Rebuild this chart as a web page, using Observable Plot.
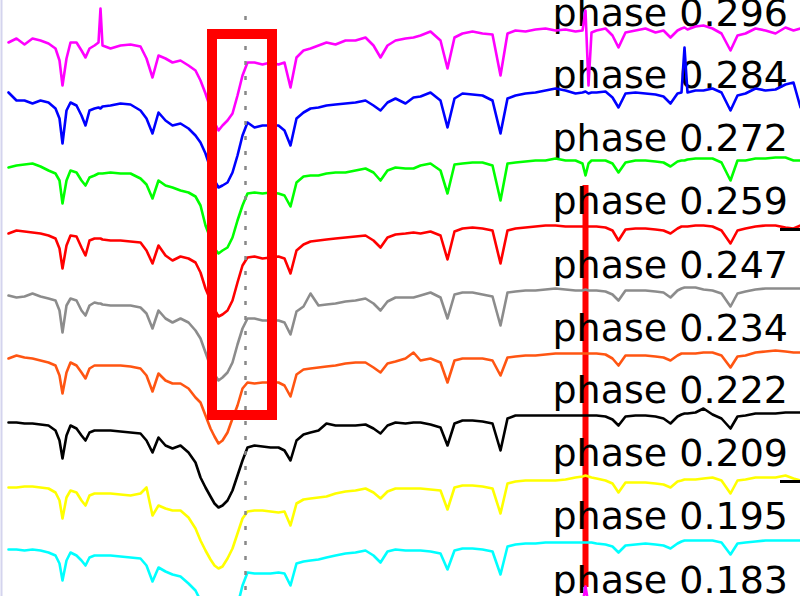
<!DOCTYPE html>
<html><head><meta charset="utf-8">
<script src="https://cdn.jsdelivr.net/npm/d3@7"></script>
<script src="https://cdn.jsdelivr.net/npm/@observablehq/plot@0.6"></script>
<style>html,body{margin:0;padding:0;background:#fff;overflow:hidden}</style>
</head><body><div id="chart"></div>
<script>
// shared wavelength bins (arbitrary pixel-like units)
const wavelength = [8,16,24,32,40,48,55,59,62,66,70,76,81,85,89,94,98,100,102,110,120,130,140,146,152,158,165,172,180,188,195,200,205,210,214,218,222,227,232,237,242,247,254,262,270,278,284,290,296,303,310,318,326,335,345,355,365,373,380,387,395,405,413,420,430,440,447,454,462,472,482,492,500,507,515,525,535,545,555,565,575,582,585,588,591,596,605,612,618,625,635,645,655,663,670,677,681,684,687,695,703,712,721,730,737,745,755,765,775,785,793,800];

const phases = ["0.296","0.284","0.272","0.259","0.247","0.234","0.222","0.209","0.195","0.183"];
const phaseColors = ["#ff00ff","#0000ff","#00ff00","#ff0000","#8c8c8c","#ff5512","#000000","#ffff00","#00ffff","#ff00ff"];
// label levels (stacked-flux units)
const labelLevels = [25,87,150,213,277,340,402,465,528,592];

// stacked flux (downward units) per phase
const flux0296 = [42,38,44,38,40,43,48,60,85,58,
 42,42,50,57,48,45,42,8,45,48,
 45,44,46,58,77,55,58,62,60,65,
 70,80,93,108,122,130,125,120,113,95,
 75,62,62,64,62,64,62,87,57,50,
 48,45,42,44,40,40,37,45,57,45,
 40,38,37,35,31,40,68,37,33,31,
 33,34,75,33,30,31,29,28,30,29,
 31,30,10,85,32,30,28,35,47,32,
 30,28,32,30,37,30,28,27,29,26,
 25,28,33,50,35,33,28,30,33,27,
 30,28];
const flux0284 = [92,100,100,103,100,102,108,118,143,110,
 102,105,115,125,110,108,107,108,106,105,
 103,104,110,118,133,112,120,125,123,128,
 135,142,153,168,180,187,185,182,172,155,
 135,122,127,125,125,125,130,145,118,112,
 108,107,105,104,103,102,100,105,110,102,
 98,103,97,96,92,100,127,98,93,94,
 95,100,133,98,95,93,92,90,88,90,
 93,92,91,93,92,92,91,97,107,93,
 92,93,94,96,103,93,92,47,92,90,
 90,88,92,110,95,93,88,90,89,84,
 82,107];
const flux0272 = [167,165,164,163,166,170,173,180,203,180,
 170,172,180,185,177,175,173,173,173,172,
 173,173,178,184,198,180,185,187,190,192,
 196,205,225,238,248,253,250,247,237,220,
 205,193,192,193,192,193,195,206,182,176,
 175,175,173,172,172,170,168,172,180,170,
 167,168,168,165,163,170,193,164,163,162,
 162,165,200,163,162,161,160,160,158,160,
 160,163,175,163,160,160,160,163,172,162,
 160,160,161,162,166,161,160,160,159,158,
 158,158,162,180,160,160,158,158,157,157,
 160,160];
const flux0259 = [233,230,231,232,233,235,238,248,268,245,
 235,236,247,255,240,238,238,238,239,240,
 240,241,242,250,263,245,255,260,256,258,
 262,272,288,300,309,316,314,310,300,282,
 265,257,256,258,257,256,258,273,250,244,
 241,240,239,238,237,236,235,240,247,237,
 234,233,232,233,231,235,259,231,228,227,
 228,230,263,230,228,227,226,225,225,226,
 226,226,226,226,226,226,227,230,240,229,
 228,228,229,230,233,228,226,226,226,225,
 225,226,230,243,230,228,226,225,225,227,
 228,225];
const flux0247 = [295,297,296,293,296,298,300,310,332,305,
 298,300,310,315,305,302,303,303,304,305,
 305,305,307,313,328,310,318,322,318,322,
 330,338,352,366,374,380,377,372,362,344,
 328,318,318,320,320,320,322,334,311,306,
 293,305,304,303,301,300,298,303,310,301,
 297,297,297,295,292,297,318,294,292,292,
 294,296,325,292,291,290,290,289,288,289,
 290,290,289,290,290,290,291,294,300,290,
 290,290,291,292,297,290,288,287,287,287,
 289,290,293,306,293,291,289,288,288,288,
 288,288];
const flux0234 = [358,355,357,358,360,362,365,375,393,372,
 362,365,372,378,368,365,365,365,365,365,
 365,366,368,375,391,373,380,383,383,388,
 397,402,415,428,436,443,440,432,418,405,
 388,382,383,382,382,382,385,396,374,369,
 368,367,366,365,363,362,362,367,372,363,
 361,358,352,360,358,362,382,360,358,358,
 358,360,375,357,356,355,355,354,353,353,
 353,353,353,353,353,353,354,358,365,355,
 355,355,356,357,360,355,353,353,353,353,
 352,352,355,367,356,355,352,351,350,351,
 352,352];
const flux0222 = [422,422,423,423,424,425,430,440,458,435,
 425,428,435,440,432,430,430,430,430,430,
 431,432,433,440,452,437,445,448,445,452,
 462,477,487,496,503,507,505,500,490,475,
 460,447,445,446,447,447,450,460,440,434,
 432,430,423,425,425,425,424,428,433,425,
 422,423,422,422,424,427,445,423,420,420,
 421,423,450,418,415,415,415,415,415,415,
 415,415,415,415,415,415,416,419,425,416,
 415,415,416,418,423,416,414,413,413,412,
 408,414,418,428,416,415,413,413,413,412,
 412,412];
const flux0209 = [487,487,486,486,487,488,492,500,518,497,
 490,492,500,505,495,493,493,493,493,493,
 494,495,493,487,515,505,508,510,510,517,
 528,540,550,559,565,568,566,558,548,533,
 518,511,510,510,511,512,511,525,503,499,
 498,497,496,493,491,490,488,492,498,491,
 488,488,488,488,489,490,509,487,485,485,
 486,488,513,483,481,480,480,480,480,479,
 477,476,475,476,477,478,480,483,492,482,
 482,482,483,484,487,481,480,479,479,479,
 478,477,480,493,480,479,477,477,477,475,
 478,480];
const flux0195 = [549,549,550,549,550,552,555,563,580,560,
 552,555,560,565,557,555,555,555,555,555,
 556,557,558,565,581,567,571,574,576,583,
 590,600,612,622,630,634,632,625,615,605,
 585,572,573,573,573,572,573,585,563,561,
 560,559,557,555,553,552,550,555,562,551,
 549,550,550,550,551,553,569,550,548,548,
 549,551,574,546,544,543,543,542,542,542,
 542,542,542,542,542,543,544,546,552,545,
 544,543,544,545,548,543,541,540,540,540,
 540,540,542,554,543,542,541,540,540,540,
 540,540];
// only the spike of the lowest spectrum reaches into view
const wavelength0183 = [578,582,585,588,592];
const flux0183 = [604,604,586,604,604];

// annotations
const restWavelength = [245];
const restTop = 16;
const markerWavelength = [585];
const markerTop = 185, markerBottom = 587;
const highlight = [{x1: 212, x2: 272, y1: 34, y2: 415}];
const axisTicks = [229, 481];

const fluxes = [flux0296, flux0284, flux0272, flux0259, flux0247, flux0234, flux0222, flux0209, flux0195];
const rows = [];
fluxes.forEach((f, i) => f.forEach((v, j) => rows.push({phase: phases[i], x: wavelength[j], y: v})));
wavelength0183.forEach((x, j) => rows.push({phase: "0.183", x, y: flux0183[j]}));

const labels = phases.map((p, i) => ({text: "phase " + p, y: labelLevels[i]}));

const chart = Plot.plot({
  width: 800, height: 596, margin: 0,
  style: {background: "#fff"},
  x: {domain: [0, 800], axis: null},
  y: {domain: [0, 596], reverse: true, axis: null},
  color: {domain: phases, range: phaseColors},
  marks: [
    Plot.ruleX([1], {stroke: "#d4d4ee", strokeWidth: 2}),
    Plot.ruleX(markerWavelength, {x: d => d, y1: markerTop, y2: markerBottom, stroke: "#ff0000", strokeWidth: 6}),
    Plot.text(labels, {x: 552, y: "y", text: "text", textAnchor: "start", lineAnchor: "bottom", fontSize: 38, fontFamily: "DejaVu Sans", fill: "#000"}),
    Plot.line(rows, {x: "x", y: "y", z: "phase", stroke: "phase", strokeWidth: 2.6, clip: true}),
    Plot.ruleX(restWavelength, {x: d => d, y1: restTop, y2: 596, stroke: "#888", strokeWidth: 2.5, strokeDasharray: "4,11"}),
    Plot.rect(highlight, {x1: "x1", x2: "x2", y1: "y1", y2: "y2", fill: "none", stroke: "#ff0000", strokeWidth: 10}),
    Plot.ruleY(axisTicks, {y: d => d, x1: 780, x2: 800, stroke: "#000", strokeWidth: 3})
  ]
});
document.getElementById("chart").appendChild(chart);
</script></body></html>
